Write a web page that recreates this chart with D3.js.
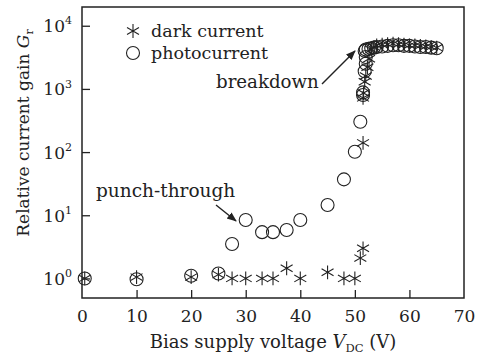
<!DOCTYPE html>
<html>
<head>
<meta charset="utf-8">
<script src="https://cdn.jsdelivr.net/npm/d3@7"></script>
<style>
html,body{margin:0;padding:0;background:#fff;}
svg{display:block;}
text{font-family:"DejaVu Serif",serif;fill:#222;}
</style>
</head>
<body>
<svg id="chart" width="480" height="356"></svg>
<script>
// ---- data ----
const voltageTicks = [0, 10, 20, 30, 40, 50, 60, 70];
const gainTicks = [1, 10, 100, 1000, 10000];
const gainTickExponents = ["0", "1", "2", "3", "4"];

const photoV = [0.5, 10, 20, 25, 27.5, 30, 33, 35, 37.5, 40, 45, 48, 50, 51, 51.5, 51.5, 51.8, 52, 52, 51.8, 52, 52.5, 53, 53.5, 54, 55, 56, 57, 58, 59, 60, 61, 62, 63, 64, 65];
const photoG = [1.0, 0.97, 1.1, 1.2, 3.5, 8.4, 5.4, 5.4, 5.85, 8.4, 14.5, 37, 101, 302, 800, 880, 1900, 2500, 3200, 4000, 4200, 4300, 4400, 4500, 4600, 4700, 4800, 4900, 4900, 4800, 4800, 4700, 4600, 4600, 4500, 4400];

const darkV = [0.5, 10, 20, 25, 27.5, 30, 33, 35, 37.5, 40, 45, 48, 50, 51, 51.5, 51.5, 51.5, 51.6, 51.8, 52, 52.3, 52.6, 53, 53.5, 54, 55, 56, 57, 58, 59, 60, 61, 62, 63, 64, 65];
const darkG = [1.0, 1.05, 1.05, 1.15, 1.0, 1.0, 1.0, 1.0, 1.45, 1.0, 1.25, 1.0, 1.0, 2.1, 3.0, 140, 720, 860, 1300, 1600, 2200, 3000, 4200, 4600, 4900, 5000, 5100, 5200, 5100, 5000, 4900, 4900, 4800, 4700, 4600, 4500];

const legendLabels = ["dark current", "photocurrent"];

// ---- layout ----
const W = 480, H = 356;
const m = {left: 82, right: 16, top: 7, bottom: 58};
const svg = d3.select("#chart");
const ink = "#222";

const x = d3.scaleLinear().domain([0, 70]).range([m.left, W - m.right]);
const y = d3.scaleLog().domain([0.49, 19800]).range([H - m.bottom, m.top]);

// frame
svg.append("rect")
  .attr("x", m.left).attr("y", m.top)
  .attr("width", W - m.left - m.right).attr("height", H - m.top - m.bottom)
  .attr("fill", "none").attr("stroke", ink).attr("stroke-width", 1.5);

// x axis
const xAxis = d3.axisBottom(x).tickValues(voltageTicks).tickSize(-8).tickPadding(12).tickFormat(d3.format("d"));
const gx = svg.append("g").attr("transform", `translate(0,${H - m.bottom})`).call(xAxis);
gx.select(".domain").remove();
gx.selectAll(".tick line").attr("stroke", ink).attr("stroke-width", 1.3)
  .filter(d => d === 0 || d === 70).remove();
gx.selectAll(".tick text").attr("font-size", 17).attr("font-family", "DejaVu Serif").attr("fill", ink);

// y axis
const yAxis = d3.axisLeft(y).tickValues(gainTicks).tickSize(-8).tickPadding(10).tickFormat(() => "");
const gy = svg.append("g").attr("transform", `translate(${m.left},0)`).call(yAxis);
gy.select(".domain").remove();
gy.selectAll(".tick line").attr("stroke", ink).attr("stroke-width", 1.3);
gy.selectAll(".tick text").each(function(d, i) {
  const t = d3.select(this).attr("font-size", 17).attr("font-family", "DejaVu Serif").attr("fill", ink).attr("dy", "0.35em");
  t.append("tspan").text("10");
  t.append("tspan").attr("font-size", 11).attr("dy", "-0.7em").text(gainTickExponents[i]);
});

// axis titles
const xt = svg.append("text").attr("x", (m.left + W - m.right) / 2).attr("y", 348)
  .attr("text-anchor", "middle").attr("font-size", 18);
xt.append("tspan").text("Bias supply voltage ");
xt.append("tspan").attr("font-style", "italic").text("V");
xt.append("tspan").attr("font-size", 11.5).attr("dy", 4).text("DC");
xt.append("tspan").attr("dy", -4).text(" (V)");

const yt = svg.append("text").attr("transform", "translate(29,133) rotate(-90)")
  .attr("text-anchor", "middle").attr("font-size", 17);
yt.append("tspan").text("Relative current gain ");
yt.append("tspan").attr("font-style", "italic").text("G");
yt.append("tspan").attr("font-size", 11).attr("dy", 4).text("r");

// symbols
const circR = 6.5;
const starR = 7;
const asterisk = d3.symbol().type(d3.symbolAsterisk).size(Math.pow(starR / 0.59436, 2) * 0.97);

const photo = photoV.map((v, i) => ({v, g: photoG[i]}));
const dark = darkV.map((v, i) => ({v, g: darkG[i]}));

svg.append("g").selectAll("circle").data(photo).join("circle")
  .attr("cx", d => x(d.v)).attr("cy", d => y(d.g)).attr("r", circR)
  .attr("fill", "none").attr("stroke", ink).attr("stroke-width", 1.1);

svg.append("g").selectAll("path").data(dark).join("path")
  .attr("transform", d => `translate(${x(d.v)},${y(d.g)})`)
  .attr("d", asterisk).attr("fill", "none").attr("stroke", ink).attr("stroke-width", 1.1);

// legend
const lg = svg.append("g");
lg.append("path").attr("transform", "translate(133,31)").attr("d", asterisk)
  .attr("fill", "none").attr("stroke", ink).attr("stroke-width", 1.1);
lg.append("circle").attr("cx", 133).attr("cy", 53).attr("r", circR)
  .attr("fill", "none").attr("stroke", ink).attr("stroke-width", 1.1);
lg.append("text").attr("x", 151).attr("y", 31).attr("dy", "0.35em").attr("font-size", 17.5).text(legendLabels[0]);
lg.append("text").attr("x", 151).attr("y", 53).attr("dy", "0.35em").attr("font-size", 17.5).text(legendLabels[1]);

// annotations
svg.append("defs").append("marker").attr("id", "ah")
  .attr("viewBox", "0 0 10 10").attr("refX", 9).attr("refY", 5)
  .attr("markerWidth", 7).attr("markerHeight", 7).attr("orient", "auto")
  .append("path").attr("d", "M0,1 L10,5 L0,9 Z").attr("fill", ink);

svg.append("text").attr("x", 216).attr("y", 82).attr("dy", "0.35em").attr("font-size", 18.2).text("breakdown");
svg.append("line").attr("x1", 322).attr("y1", 84).attr("x2", 355).attr("y2", 51)
  .attr("stroke", ink).attr("stroke-width", 1.4).attr("marker-end", "url(#ah)");

svg.append("text").attr("x", 96).attr("y", 191).attr("dy", "0.35em").attr("font-size", 18.5).text("punch-through");
svg.append("line").attr("x1", 216).attr("y1", 205).attr("x2", 236).attr("y2", 221)
  .attr("stroke", ink).attr("stroke-width", 1.4).attr("marker-end", "url(#ah)");
</script>
</body>
</html>
